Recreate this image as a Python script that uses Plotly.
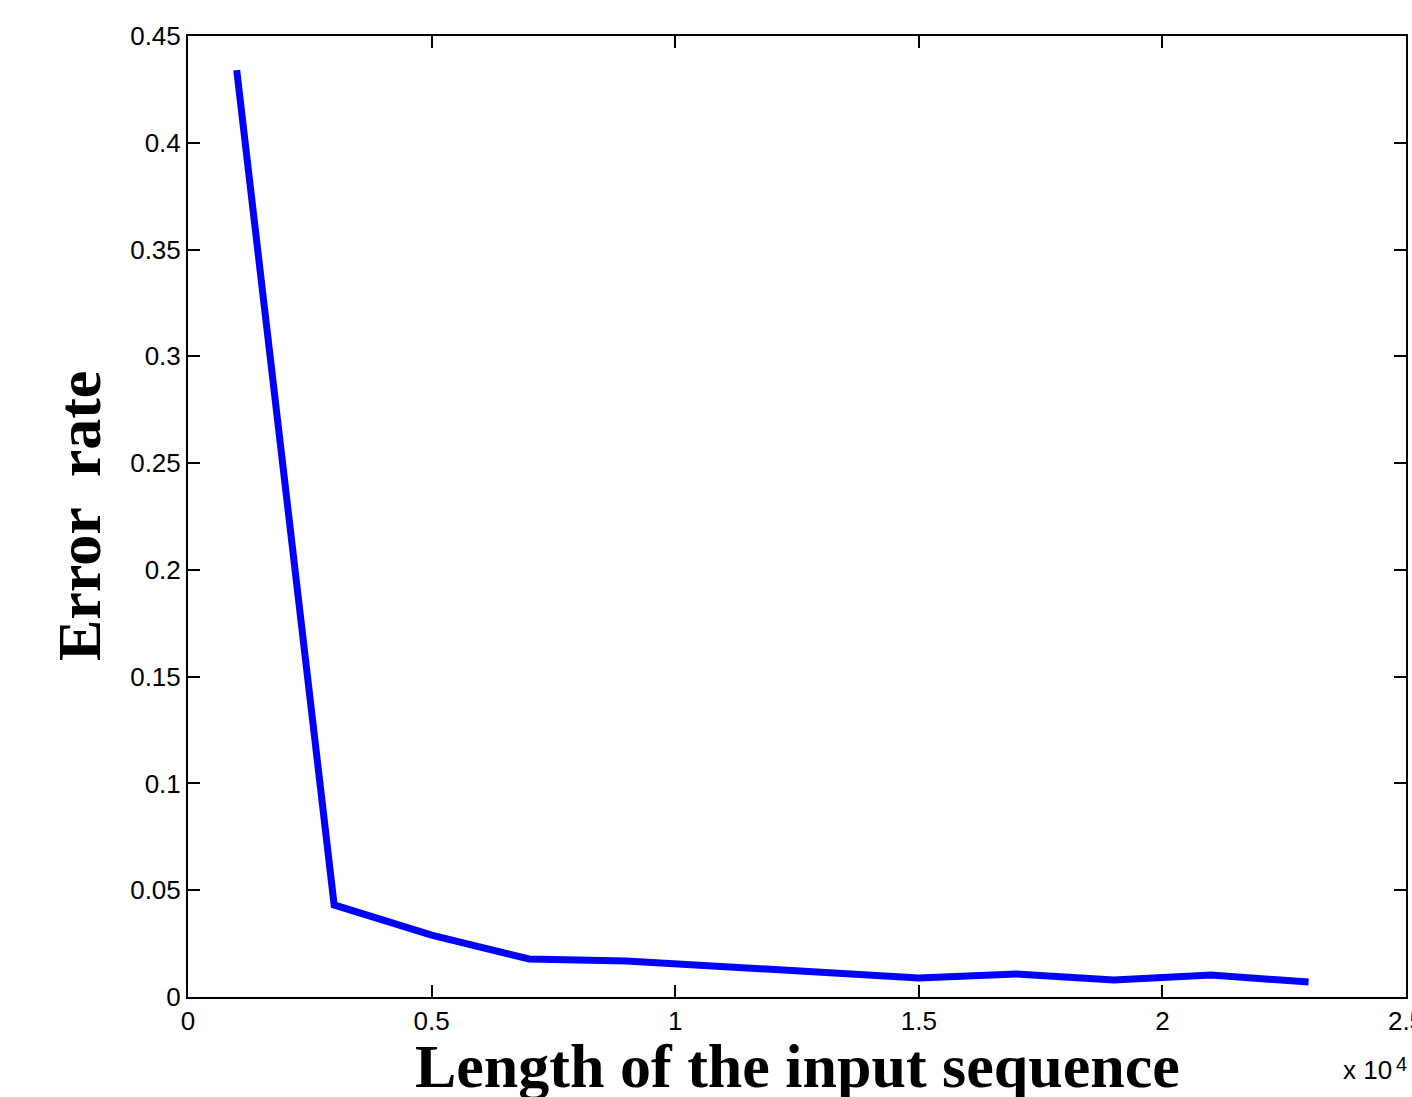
import plotly.graph_objects as go

x_vals = [1000, 3000, 5000, 7000, 9000, 11000, 13000, 15000, 17000, 19000, 21000, 23000]
err_rate = [0.434, 0.0431, 0.029, 0.0178, 0.0169, 0.014, 0.0117, 0.0089, 0.0108, 0.008, 0.0103, 0.007]
x_ticks = [0, 5000, 10000, 15000, 20000, 25000]
x_tick_text = ["0", "0.5", "1", "1.5", "2", "2.5"]
y_ticks = [0, 0.05, 0.1, 0.15, 0.2, 0.25, 0.3, 0.35, 0.4, 0.45]
y_tick_text = ["0", "0.05", "0.1", "0.15", "0.2", "0.25", "0.3", "0.35", "0.4", "0.45"]

fig = go.Figure()
fig.add_trace(go.Scatter(x=x_vals, y=err_rate, mode="lines",
                         line=dict(color="#0000ff", width=7), showlegend=False,
                         cliponaxis=False))

tickfont = dict(family="Liberation Sans, Arial, sans-serif", size=26, color="black")
axis_common = dict(ticks="inside", ticklen=12, tickwidth=1.5, tickcolor="black",
                   showline=True, linecolor="black", linewidth=2, mirror="ticks",
                   showgrid=False, zeroline=False, tickfont=tickfont, automargin=False,
                   ticklabeloverflow="allow")

W_PLOT = 1218
H_PLOT = 961


def px(xp):
    return (xp - 188) / W_PLOT


def py(yp):
    return (997 - yp) / H_PLOT


fig.update_layout(
    width=1412, height=1097,
    margin=dict(l=188, r=6, t=36, b=100, pad=0),
    paper_bgcolor="white", plot_bgcolor="white",
    xaxis=dict(range=[0, 25000], tickvals=x_ticks, ticktext=x_tick_text, **axis_common),
    yaxis=dict(range=[0, 0.45], tickvals=y_ticks, ticktext=y_tick_text, **axis_common),
    annotations=[
        dict(text="<b>Length of the input sequence</b>", xref="paper", yref="paper",
             x=px(797), y=py(1066), xanchor="center", yanchor="middle",
             showarrow=False,
             font=dict(family="Liberation Serif, Times New Roman, serif", size=62, color="black")),
        dict(text="<b>Error  rate</b>", xref="paper", yref="paper",
             x=px(79), y=py(516), xanchor="center", yanchor="middle",
             textangle=-90, showarrow=False,
             font=dict(family="Liberation Serif, Times New Roman, serif", size=62, color="black")),
        dict(text="x 10", xref="paper", yref="paper",
             x=px(1394), y=py(1070), xanchor="right", yanchor="middle",
             showarrow=False,
             font=dict(family="Liberation Sans, Arial, sans-serif", size=26, color="black")),
        dict(text="4", xref="paper", yref="paper",
             x=px(1394), y=py(1064), xanchor="left", yanchor="middle",
             showarrow=False,
             font=dict(family="Liberation Sans, Arial, sans-serif", size=20, color="black")),
    ],
)

fig.write_html("out.html", config={"displayModeBar": False},
               post_script="document.body.style.margin='0';document.body.style.overflow='hidden';")
